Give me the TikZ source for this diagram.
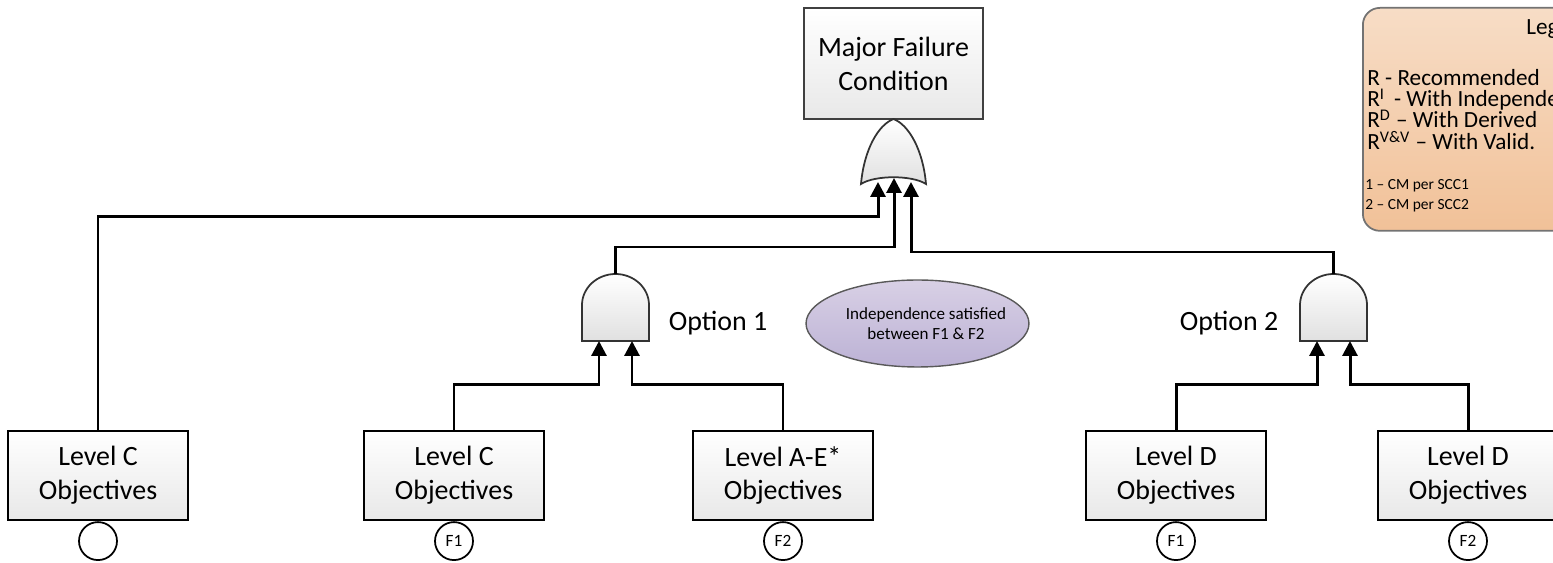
\documentclass[tikz,border=0pt]{standalone}
\usepackage{fontspec}
\setmainfont{Carlito}
\usetikzlibrary{arrows.meta, positioning, shapes.geometric}
\definecolor{legtop}{RGB}{247,221,198}
\definecolor{legbot}{RGB}{241,193,152}
\definecolor{ovaltop}{RGB}{216,208,229}
\definecolor{ovalbot}{RGB}{188,178,213}

\begin{document}
\begin{tikzpicture}[x=0.02cm, y=-0.02cm]
    \tikzstyle{level box}=[rectangle, draw=black, line width=1.4pt, top color=white, bottom color=black!9, minimum width=3.6cm, minimum height=1.78cm, inner sep=0pt, align=center, font=\fontsize{15.9}{19.3}\selectfont]
    \tikzstyle{tag}=[circle, draw=black, line width=1pt, fill=white, minimum size=0.76cm, inner sep=0pt, font=\fontsize{9.8}{11}\selectfont]
    \tikzstyle{gate}=[draw=black!80, line width=1pt, top color=white, bottom color=black!12]
    \tikzstyle{conn}=[-{Triangle[length=8.5pt,width=8.5pt]}, line width=1.7pt]
    \tikzstyle{annot}=[inner sep=0pt, font=\fontsize{15.9}{19.3}\selectfont]
    \tikzstyle{legend line}=[anchor=base west, inner sep=0pt, font=\fontsize{13.2}{15}\selectfont]

    \useasboundingbox (0,0) rectangle (1553,563);
    \clip (0,0) rectangle (1553,563);

    % Top event
    \node[level box, draw=black!75, minimum width=3.58cm, minimum height=2.22cm] (MFC) at (893.5,63.5) {Major Failure\\Condition};

    % OR gate under the top event
    \draw[gate] (861,184) .. controls (864,150) and (878,125) .. (893.5,119)
        .. controls (909,125) and (923,150) .. (926,184)
        .. controls (912,175) and (875,175) .. (861,184) -- cycle;
    \coordinate (or-a) at (878,182);
    \coordinate (or-b) at (894,178);
    \coordinate (or-c) at (911,182);

    % AND gates for the two options
    \foreach \g/\cx in {1/615.5, 2/1333.5}{
        \draw[gate] ({\cx-33.5},341) -- ({\cx-33.5},305)
            .. controls ({\cx-33.5},288) and ({\cx-18.5},274) .. (\cx,274)
            .. controls ({\cx+18.5},274) and ({\cx+33.5},288) .. ({\cx+33.5},305)
            -- ({\cx+33.5},341) -- cycle;
        \coordinate (and\g-out) at (\cx,274);
        \coordinate (and\g-a) at ({\cx-16.5},341);
        \coordinate (and\g-b) at ({\cx+16.5},341);
    }

    % Objective boxes with their function tags
    \foreach \name/\x/\lvl/\fn in {1/98/C/, 2/454/C/F1, 3/783/A-E*/F2, 4/1176/D/F1, 5/1468/D/F2}{
        \node[level box] (obj-\name) at (\x,475.5) {Level \lvl\\Objectives};
        \node[tag, below=0pt of obj-\name] (tag-\name) {\fn};
    }

    % Connect the boxes to the gates
    \draw[conn] (obj-1.north) -- ++(0,-213) -| (or-a);
    \draw[conn] (and1-out) -- ++(0,-27) -| (or-b);
    \draw[conn] (and2-out) -- ++(0,-22) -| (or-c);
    \draw[conn] (obj-2.north) -- ++(0,-45) -| (and1-a);
    \draw[conn] (obj-3.north) -- ++(0,-45) -| (and1-b);
    \draw[conn] (obj-4.north) -- ++(0,-45) -| (and2-a);
    \draw[conn] (obj-5.north) -- ++(0,-45) -| (and2-b);

    % Option labels and the note
    \node[annot] (opt1) at (718,323) {Option 1};
    \node[annot] (opt2) at (1229,323) {Option 2};
    \node[ellipse, draw=black!65, line width=0.8pt, top color=ovaltop, bottom color=ovalbot, minimum width=4.46cm, minimum height=1.74cm, inner sep=0pt] (indep) at (917.5,323.5) {};
    \node[align=center, inner sep=0pt, font=\fontsize{9.7}{11.4}\selectfont] (indep-text) at (926,324) {Independence satisfied\\between F1 \& F2};

    % Legend
    \node[rectangle, rounded corners=0.34cm, draw=black!55, line width=1pt, top color=legtop, bottom color=legbot, minimum width=7.9cm, minimum height=4.46cm, anchor=north west] (legend) at (1362,7) {};
    \node[legend line] (leg-title) at (1526,35) {Legend};
    \node[legend line] (leg-1) at (1367,86) {R - Recommended};
    \node[legend line] (leg-2) at (1367,107) {R\textsuperscript{I}\, - With Independence};
    \node[legend line] (leg-3) at (1367,128) {R\textsuperscript{D} -- With Derived};
    \node[legend line] (leg-4) at (1367,150) {R\textsuperscript{V\&V} -- With Valid.};
    \node[legend line, font=\fontsize{8.8}{10}\selectfont] (leg-5) at (1365,190) {1 -- CM per SCC1};
    \node[legend line, font=\fontsize{8.8}{10}\selectfont] (leg-6) at (1365,210) {2 -- CM per SCC2};
\end{tikzpicture}
\end{document}
